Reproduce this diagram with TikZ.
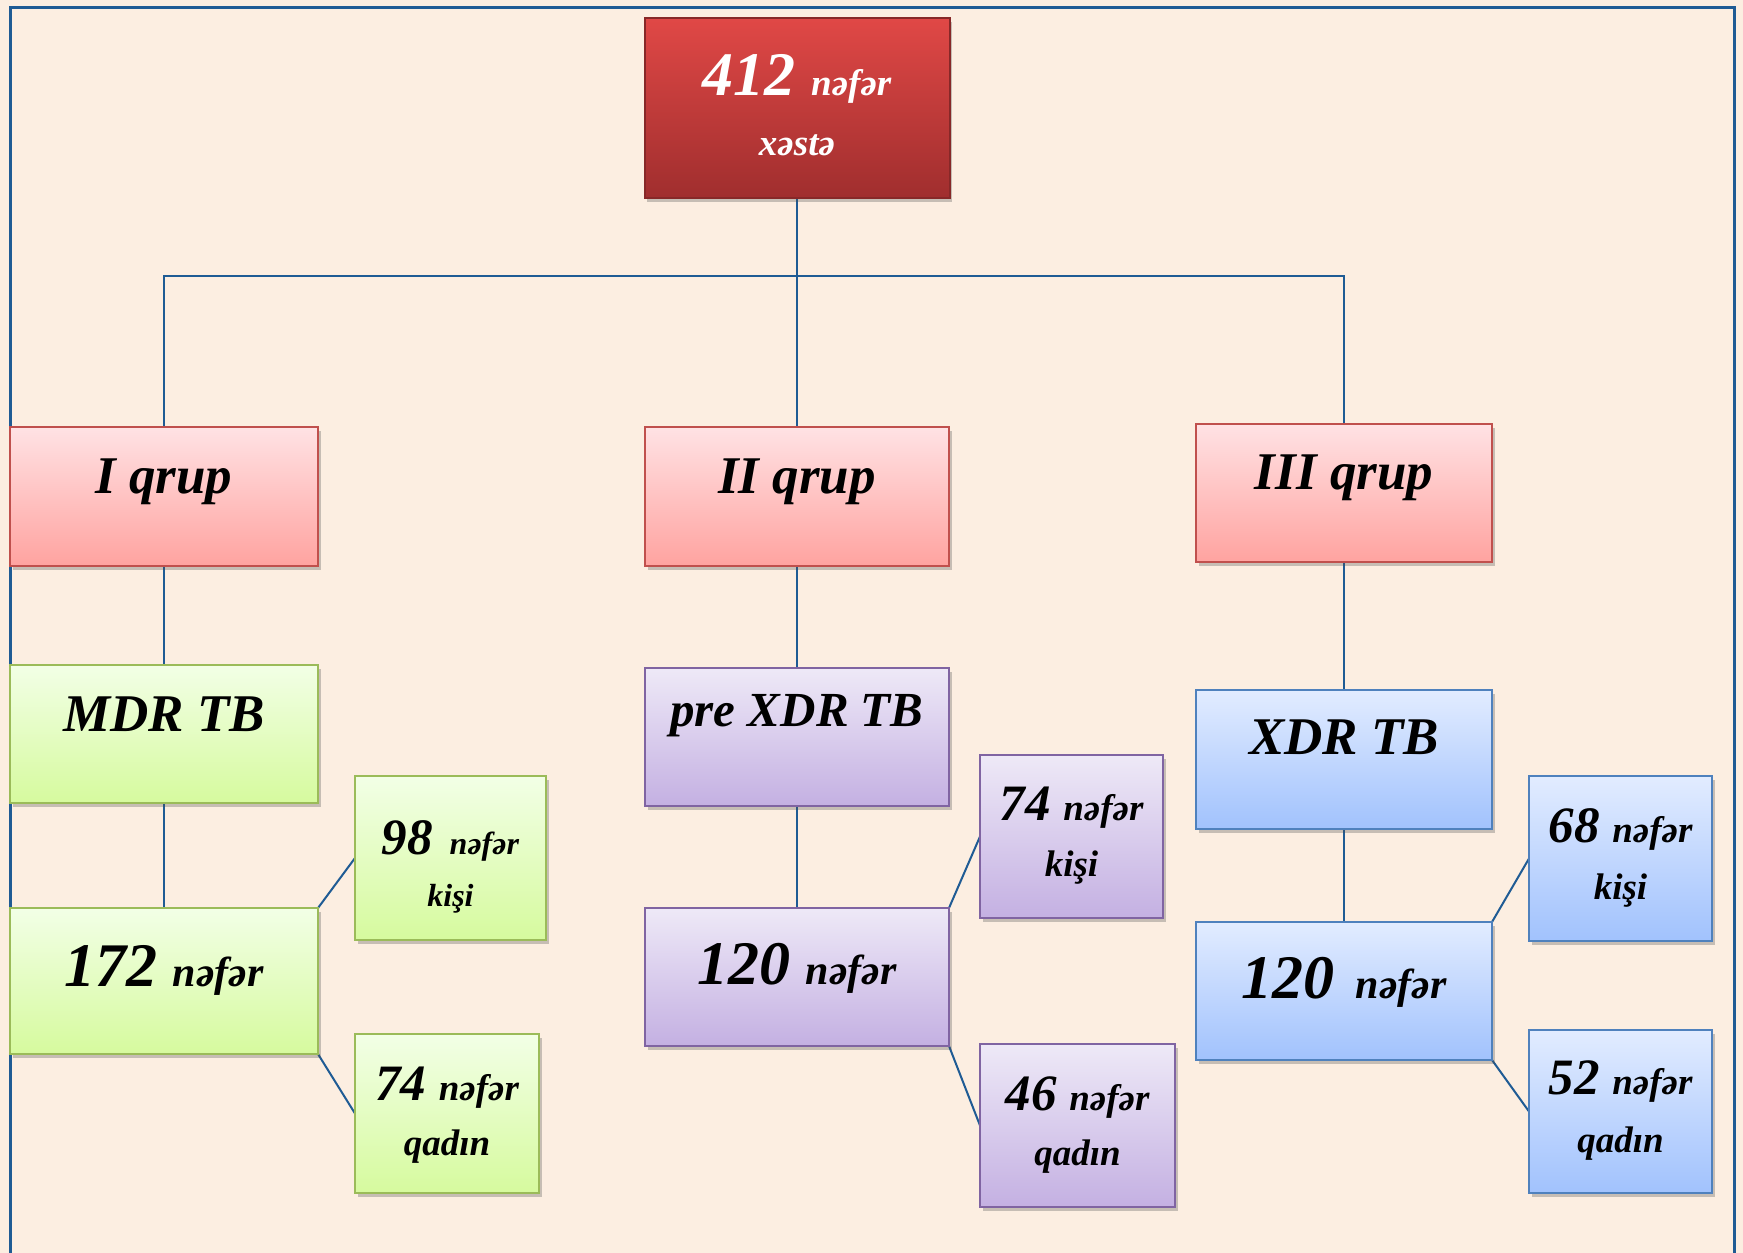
\documentclass[tikz,border=0pt]{standalone}
\usepackage{fontspec}
\setmainfont{Liberation Serif}
\usetikzlibrary{shadows,backgrounds}
\definecolor{bgc}{RGB}{252,238,225}
\definecolor{linec}{RGB}{31,91,148}
\definecolor{redT}{RGB}{224,72,70}
\definecolor{redB}{RGB}{160,46,46}
\definecolor{redD}{RGB}{135,40,40}
\definecolor{pinkT}{RGB}{255,226,228}
\definecolor{pinkB}{RGB}{255,163,160}
\definecolor{pinkD}{RGB}{192,80,77}
\definecolor{grnT}{RGB}{242,255,230}
\definecolor{grnB}{RGB}{214,250,158}
\definecolor{grnD}{RGB}{155,187,89}
\definecolor{purT}{RGB}{238,233,247}
\definecolor{purB}{RGB}{196,176,226}
\definecolor{purD}{RGB}{128,100,162}
\definecolor{bluT}{RGB}{226,236,255}
\definecolor{bluB}{RGB}{161,194,253}
\definecolor{bluD}{RGB}{79,129,189}
\newcommand\myfs[1]{\fontsize{#1}{#1}\selectfont}
\tikzset{
  box/.style={rectangle, inner sep=0pt, outer sep=0pt, line width=2pt,
    drop shadow={shadow xshift=2.5pt, shadow yshift=-3.5pt, opacity=0.3, fill=black!70}},
  redbox/.style={box, draw=redD, top color=redT, bottom color=redB},
  pinkbox/.style={box, draw=pinkD, top color=pinkT, bottom color=pinkB},
  grnbox/.style={box, draw=grnD, top color=grnT, bottom color=grnB},
  purbox/.style={box, draw=purD, top color=purT, bottom color=purB},
  blubox/.style={box, draw=bluD, top color=bluT, bottom color=bluB},
  lbl/.style={anchor=base, inner sep=0pt, outer sep=0pt, font=\bfseries\itshape},
  conn/.style={draw=linec, line width=2pt},
}
\begin{document}
\begin{tikzpicture}[x=1pt, y=-1pt]
\useasboundingbox (0,0) rectangle (1743,1253);
% top
\node[redbox, minimum width=305pt, minimum height=180pt] (top) at (797,108) {};
% groups
\node[pinkbox, minimum width=308pt, minimum height=139pt] (g1) at (164,496.5) {};
\node[pinkbox, minimum width=304pt, minimum height=139pt] (g2) at (797,496.5) {};
\node[pinkbox, minimum width=296pt, minimum height=138pt] (g3) at (1344,493) {};
% types
\node[grnbox, minimum width=308pt, minimum height=138pt] (t1) at (164,734) {};
\node[purbox, minimum width=304pt, minimum height=138pt] (t2) at (797,737) {};
\node[blubox, minimum width=296pt, minimum height=139pt] (t3) at (1344,759.5) {};
% counts
\node[grnbox, minimum width=308pt, minimum height=146pt] (c1) at (164,981) {};
\node[purbox, minimum width=304pt, minimum height=138pt] (c2) at (797,977) {};
\node[blubox, minimum width=296pt, minimum height=138pt] (c3) at (1344,991) {};
% small boxes
\node[grnbox, minimum width=191pt, minimum height=164pt] (s1a) at (450.5,858) {};
\node[grnbox, minimum width=184pt, minimum height=159pt] (s1b) at (447,1113.5) {};
\node[purbox, minimum width=183pt, minimum height=163pt] (s2a) at (1071.5,836.5) {};
\node[purbox, minimum width=195pt, minimum height=163pt] (s2b) at (1077.5,1125.5) {};
\node[blubox, minimum width=183pt, minimum height=165pt] (s3a) at (1620.5,858.5) {};
\node[blubox, minimum width=183pt, minimum height=163pt] (s3b) at (1620.5,1111.5) {};

% texts
\node[lbl, text=white, font=\bfseries\itshape\myfs{62}] (top1) at ([yshift=-77pt]top.north) {412 \myfs{37}nəfər};
\node[lbl, text=white, font=\bfseries\itshape\myfs{37}] (top2) at ([yshift=-137pt]top.north) {xəstə};
\node[lbl, font=\bfseries\itshape\myfs{53}] (g1t) at ([yshift=-66pt]g1.north) {I qrup};
\node[lbl, font=\bfseries\itshape\myfs{53}] (g2t) at ([yshift=-66pt]g2.north) {II qrup};
\node[lbl, font=\bfseries\itshape\myfs{53}] (g3t) at ([yshift=-65pt]g3.north) {III qrup};
\node[lbl, font=\bfseries\itshape\myfs{53}] (t1t) at ([yshift=-66pt]t1.north) {MDR TB};
\node[lbl, font=\bfseries\itshape\myfs{49}] (t2t) at ([yshift=-58pt]t2.north) {pre XDR TB};
\node[lbl, font=\bfseries\itshape\myfs{53}] (t3t) at ([yshift=-64pt]t3.north) {XDR TB};
\node[lbl, font=\bfseries\itshape\myfs{62}] (c1t) at ([yshift=-78pt]c1.north) {172 \myfs{42}nəfər};
\node[lbl, font=\bfseries\itshape\myfs{62}] (c2t) at ([yshift=-76pt]c2.north) {120 \myfs{42}nəfər};
\node[lbl, font=\bfseries\itshape\myfs{62}] (c3t) at ([yshift=-76pt]c3.north) {120 \myfs{42}\hspace{6pt}nəfər};
\node[lbl, font=\bfseries\itshape\myfs{51}] (s1a1) at ([yshift=-78pt]s1a.north) {98 \myfs{32}\hspace{4pt}nəfər};
\node[lbl, font=\bfseries\itshape\myfs{32}] (s1a2) at ([yshift=-130pt]s1a.north) {kişi};
\node[lbl, font=\bfseries\itshape\myfs{51}] (s1b1) at ([yshift=-66pt]s1b.north) {74 \myfs{37}nəfər};
\node[lbl, font=\bfseries\itshape\myfs{37}] (s1b2) at ([yshift=-121pt]s1b.north) {qadın};
\node[lbl, font=\bfseries\itshape\myfs{51}] (s2a1) at ([yshift=-65pt]s2a.north) {74 \myfs{37}nəfər};
\node[lbl, font=\bfseries\itshape\myfs{37}] (s2a2) at ([yshift=-121pt]s2a.north) {kişi};
\node[lbl, font=\bfseries\itshape\myfs{51}] (s2b1) at ([yshift=-66pt]s2b.north) {46 \myfs{37}nəfər};
\node[lbl, font=\bfseries\itshape\myfs{37}] (s2b2) at ([yshift=-121pt]s2b.north) {qadın};
\node[lbl, font=\bfseries\itshape\myfs{51}] (s3a1) at ([yshift=-66pt]s3a.north) {68 \myfs{37}nəfər};
\node[lbl, font=\bfseries\itshape\myfs{37}] (s3a2) at ([yshift=-123pt]s3a.north) {kişi};
\node[lbl, font=\bfseries\itshape\myfs{51}] (s3b1) at ([yshift=-64pt]s3b.north) {52 \myfs{37}nəfər};
\node[lbl, font=\bfseries\itshape\myfs{37}] (s3b2) at ([yshift=-122pt]s3b.north) {qadın};

\coordinate (hl) at (164,276);
\coordinate (hr) at (1344,276);

\begin{scope}[on background layer]
  \fill[bgc] (0,0) rectangle (1743,1253);
  \draw[draw=linec, line width=3pt] (10,1253) -- (10,7) -- (1734,7) -- (1734,1253);
  \draw[conn] (top.south) -- (g2.north);
  \draw[conn] (g1.north) -- (hl) -- (hr) -- (g3.north);
  \draw[conn] (g1.south) -- (t1.north);
  \draw[conn] (g2.south) -- (t2.north);
  \draw[conn] (g3.south) -- (t3.north);
  \draw[conn] (t1.south) -- (c1.north);
  \draw[conn] (t2.south) -- (c2.north);
  \draw[conn] (t3.south) -- (c3.north);
  \draw[conn] (c1.north east) -- (s1a.west);
  \draw[conn] (c1.south east) -- (s1b.west);
  \draw[conn] (c2.north east) -- (s2a.west);
  \draw[conn] (c2.south east) -- (s2b.west);
  \draw[conn] (c3.north east) -- (s3a.west);
  \draw[conn] (c3.south east) -- (s3b.west);
\end{scope}
\end{tikzpicture}
\end{document}
